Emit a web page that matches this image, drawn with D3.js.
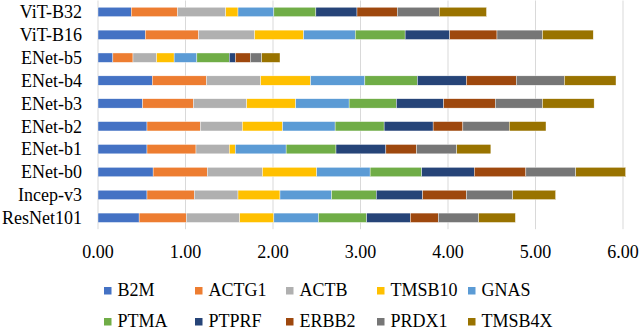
<!DOCTYPE html>
<html>
<head>
<meta charset="utf-8">
<script src="https://cdn.jsdelivr.net/npm/d3@7"></script>
<style>
  body { margin: 0; background: #fff; }
</style>
</head>
<body>
<svg width="640" height="330"></svg>
<script>
// categories top to bottom
const models = ["ViT-B32", "ViT-B16", "ENet-b5", "ENet-b4", "ENet-b3",
                "ENet-b2", "ENet-b1", "ENet-b0", "Incep-v3", "ResNet101"];
const genes = ["B2M", "ACTG1", "ACTB", "TMSB10", "GNAS",
               "PTMA", "PTPRF", "ERBB2", "PRDX1", "TMSB4X"];

// one value per model, same order as models
const B2M    = [0.38, 0.54, 0.17, 0.62, 0.51, 0.56, 0.56, 0.63, 0.56, 0.47];
const ACTG1  = [0.53, 0.61, 0.23, 0.62, 0.58, 0.61, 0.56, 0.62, 0.54, 0.54];
const ACTB   = [0.55, 0.64, 0.27, 0.62, 0.61, 0.48, 0.38, 0.63, 0.50, 0.61];
const TMSB10 = [0.14, 0.56, 0.20, 0.57, 0.56, 0.46, 0.07, 0.62, 0.48, 0.39];
const GNAS   = [0.41, 0.59, 0.26, 0.62, 0.61, 0.60, 0.58, 0.61, 0.59, 0.51];
const PTMA   = [0.48, 0.57, 0.37, 0.60, 0.54, 0.56, 0.57, 0.59, 0.51, 0.55];
const PTPRF  = [0.47, 0.51, 0.07, 0.56, 0.54, 0.56, 0.57, 0.60, 0.53, 0.50];
const ERBB2  = [0.46, 0.54, 0.17, 0.57, 0.59, 0.34, 0.35, 0.59, 0.50, 0.32];
const PRDX1  = [0.48, 0.52, 0.13, 0.55, 0.54, 0.53, 0.46, 0.57, 0.53, 0.46];
const TMSB4X = [0.54, 0.58, 0.21, 0.59, 0.59, 0.42, 0.39, 0.57, 0.49, 0.42];

const xTicks = [0, 1, 2, 3, 4, 5, 6];

const colors = ["#4472C4", "#ED7D31", "#B0B0B0", "#FFC000", "#5B9BD5",
                "#70AD47", "#264478", "#9E480E", "#767676", "#997300"];

const seriesVals = [B2M, ACTG1, ACTB, TMSB10, GNAS, PTMA, PTPRF, ERBB2, PRDX1, TMSB4X];

// table for d3.stack
const table = models.map((m, i) => {
  const row = { model: m };
  genes.forEach((g, j) => { row[g] = seriesVals[j][i]; });
  return row;
});

const FONT = "'Liberation Serif', 'Times New Roman', Times, serif";

const svg = d3.select("svg");
const plotL = 98, plotR = 623, plotT = 0.5, plotB = 229.2;

const x = d3.scaleLinear().domain([0, 6]).range([plotL, plotR]);
const y = d3.scaleBand().domain(models).range([plotT, plotB]).paddingInner(0.59).paddingOuter(0.295);
const color = d3.scaleOrdinal(genes, colors);

// grid lines
svg.append("g")
  .selectAll("line")
  .data(xTicks)
  .join("line")
  .attr("x1", d => x(d)).attr("x2", d => x(d))
  .attr("y1", plotT).attr("y2", plotB)
  .attr("stroke", "#d9d9d9")
  .attr("stroke-width", 1);

const stack = d3.stack().keys(genes)(table);

svg.append("g")
  .selectAll("g")
  .data(stack)
  .join("g")
  .attr("fill", d => color(d.key))
  .selectAll("rect")
  .data(d => d)
  .join("rect")
  .attr("x", d => x(d[0]))
  .attr("width", d => x(d[1]) - x(d[0]))
  .attr("y", d => y(d.data.model))
  .attr("height", y.bandwidth())
  .attr("stroke", "#fff")
  .attr("stroke-width", 0.4);

// category labels
svg.append("g")
  .selectAll("text")
  .data(models)
  .join("text")
  .attr("x", 82)
  .attr("y", d => y(d) + y.bandwidth() / 2)
  .attr("dy", "0.35em")
  .attr("text-anchor", "end")
  .attr("font-family", FONT)
  .attr("font-size", 18)
  .text(d => d);

// x tick labels
const fmt = d3.format(".2f");
svg.append("g")
  .selectAll("text")
  .data(xTicks)
  .join("text")
  .attr("x", d => x(d))
  .attr("y", 258)
  .attr("text-anchor", "middle")
  .attr("font-family", FONT)
  .attr("font-size", 18)
  .text(d => fmt(d));

// legend, two rows of five
const legend = svg.append("g")
  .selectAll("g")
  .data(genes)
  .join("g")
  .attr("transform", (d, i) => `translate(${104 + (i % 5) * 91}, ${296 + Math.floor(i / 5) * 31})`);

legend.append("rect")
  .attr("x", 0).attr("y", -9)
  .attr("width", 7.5).attr("height", 7.5)
  .attr("fill", d => color(d));

legend.append("text")
  .attr("x", 13.5)
  .attr("y", 0)
  .attr("font-family", FONT)
  .attr("font-size", 18)
  .text(d => d);
</script>
</body>
</html>
